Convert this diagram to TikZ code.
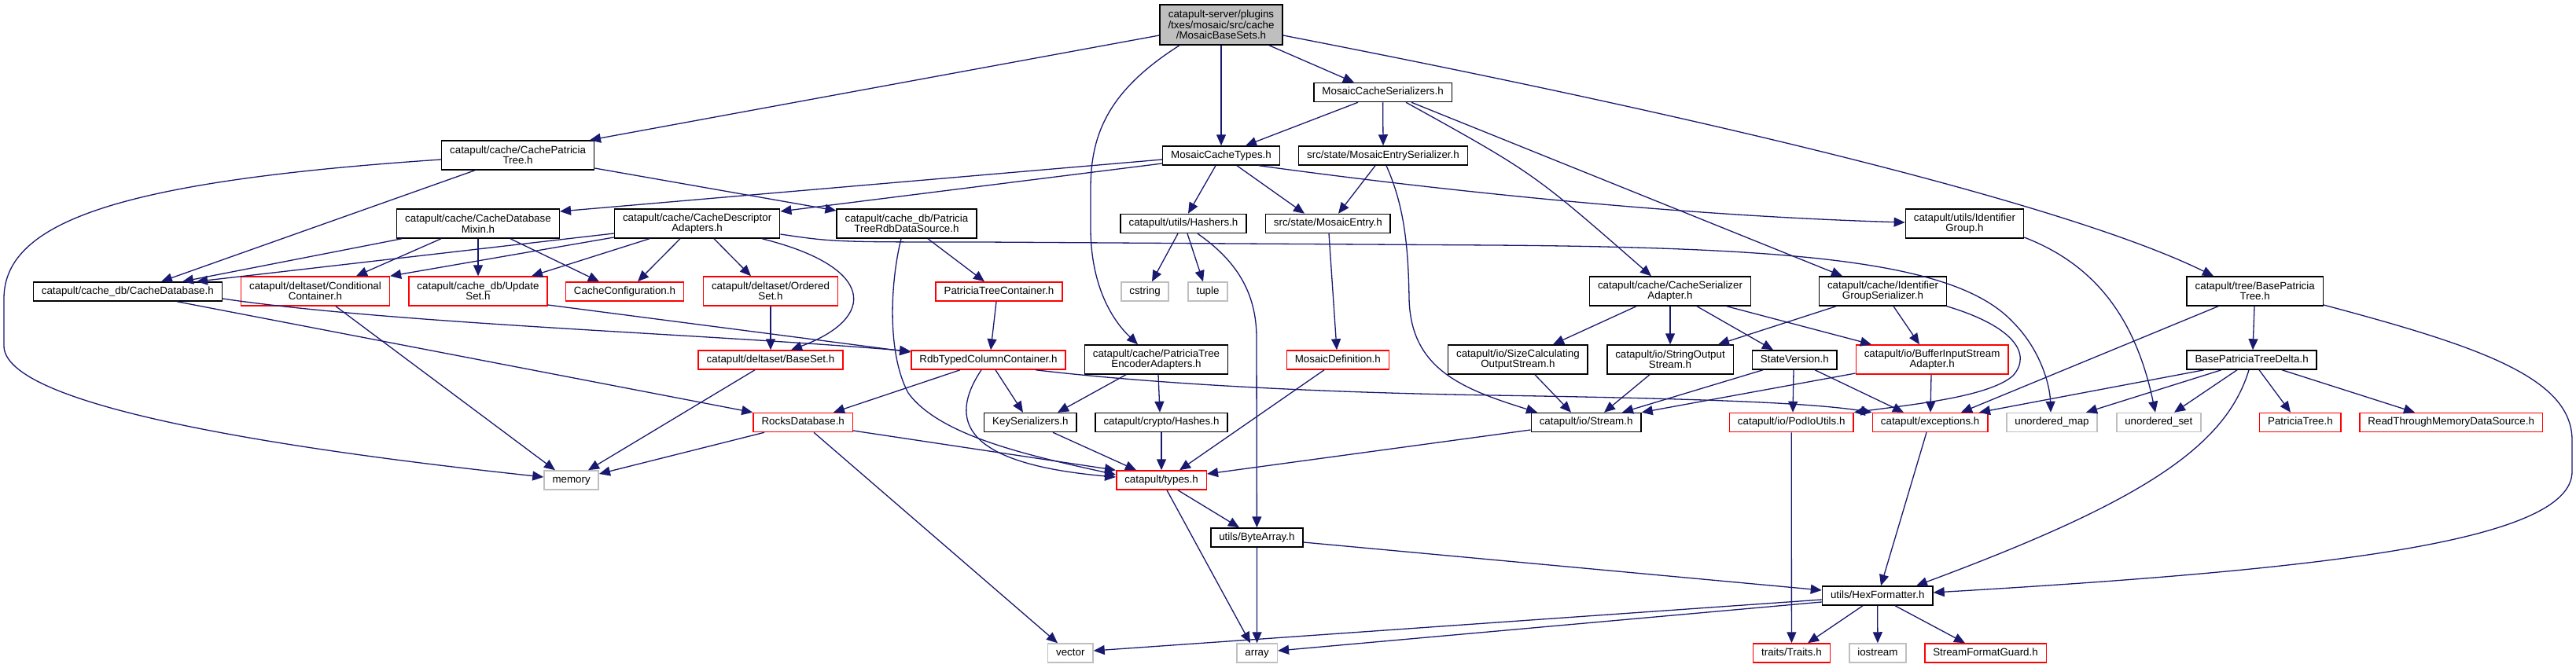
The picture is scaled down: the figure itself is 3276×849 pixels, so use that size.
\documentclass[tikz,border=0pt]{standalone}
\usepackage{fontspec}
\setmainfont{Liberation Sans}
\usetikzlibrary{arrows.meta}
\definecolor{edgeblue}{HTML}{191970}
\definecolor{greyline}{HTML}{BFBFBF}
\begin{document}
\begin{tikzpicture}[x=1pt,y=-1pt,
  box/.style={draw=black, line width=1.5pt, fill=white, font=\fontsize{13.35}{13.4}\selectfont, align=center, inner xsep=10.5pt, inner ysep=0pt},
  one/.style={box, minimum height=24pt, text height=9.8pt, text depth=2.9pt},
  two/.style={box, minimum height=37pt},
  three/.style={box, minimum height=51pt},
  trunc/.style={draw=red},
  sys/.style={draw=greyline},
  conn/.style={draw=edgeblue, line width=1.3pt, -{Triangle[length=14pt,width=12pt]}},
]
\useasboundingbox (0,0) rectangle (3276,849);

% ---- nodes ----
\node[three, fill=greyline] (root) at (1553,31.5) {catapult-server/plugins\\/txes/mosaic/src/cache\\/MosaicBaseSets.h};
\node[one] (MCS) at (1758.6,117.5) {MosaicCacheSerializers.h};
\node[one] (MCT) at (1553,198) {MosaicCacheTypes.h};
\node[one] (MES) at (1759,198) {src/state/MosaicEntrySerializer.h};
\node[two] (CPT) at (658.6,197.5) {catapult/cache/CachePatricia\\Tree.h};
\node[two] (BPT) at (2867.7,370.5) {catapult/tree/BasePatricia\\Tree.h};
\node[two] (CDM) at (608,284.5) {catapult/cache/CacheDatabase\\Mixin.h};
\node[two] (CDA) at (886.6,284.5) {catapult/cache/CacheDescriptor\\Adapters.h};
\node[two] (PTR) at (1153,284.5) {catapult/cache\_db/Patricia\\TreeRdbDataSource.h};
\node[one] (HSH) at (1505,284.5) {catapult/utils/Hashers.h};
\node[one] (ME) at (1688.8,284.5) {src/state/MosaicEntry.h};
\node[two] (IG) at (2498.4,284.5) {catapult/utils/Identifier\\Group.h};
\node[one] (CDB) at (162.3,371) {catapult/cache\_db/CacheDatabase.h};
\node[two, trunc] (CC) at (401,370.5) {catapult/deltaset/Conditional\\Container.h};
\node[two, trunc] (US) at (608,370.5) {catapult/cache\_db/Update\\Set.h};
\node[one, trunc] (CCF) at (794.5,371) {CacheConfiguration.h};
\node[two, trunc] (OS) at (980,370.5) {catapult/deltaset/Ordered\\Set.h};
\node[one, trunc] (PTC) at (1270.5,371) {PatriciaTreeContainer.h};
\node[one, sys] (CSTR) at (1456,371) {cstring};
\node[one, sys] (TUP) at (1536,371) {tuple};
\node[two] (CSA) at (2124,370.5) {catapult/cache/CacheSerializer\\Adapter.h};
\node[two] (IGS) at (2394.5,370.5) {catapult/cache/Identifier\\GroupSerializer.h};
\node[one, trunc] (MD) at (1701.3,458) {MosaicDefinition.h};
\node[one, trunc] (BS) at (980,458) {catapult/deltaset/BaseSet.h};
\node[one, trunc] (RTC) at (1257,458) {RdbTypedColumnContainer.h};
\node[two] (PTE) at (1470.5,457.5) {catapult/cache/PatriciaTree\\EncoderAdapters.h};
\node[two] (SCO) at (1930.4,457.5) {catapult/io/SizeCalculating\\OutputStream.h};
\node[two] (SOS) at (2124,457.5) {catapult/io/StringOutput\\Stream.h};
\node[one] (SV) at (2282.3,458) {StateVersion.h};
\node[two, trunc] (BIS) at (2457.1,457.5) {catapult/io/BufferInputStream\\Adapter.h};
\node[one] (BPTD) at (2863.6,458) {BasePatriciaTreeDelta.h};
\node[one, trunc] (RDB) at (1021.2,537.5) {RocksDatabase.h};
\node[one] (KS) at (1310.4,537.5) {KeySerializers.h};
\node[one] (HS) at (1477,537.5) {catapult/crypto/Hashes.h};
\node[one] (ST) at (2017.1,537.5) {catapult/io/Stream.h};
\node[one, trunc] (PIO) at (2278.2,537.5) {catapult/io/PodIoUtils.h};
\node[one, trunc] (EXC) at (2454.6,537.5) {catapult/exceptions.h};
\node[one, sys] (UMAP) at (2609.5,537.5) {unordered\_map};
\node[one, sys] (USET) at (2745.3,537.5) {unordered\_set};
\node[one, trunc] (PT) at (2925.4,537.5) {PatriciaTree.h};
\node[one, trunc] (RTM) at (3117.2,537.5) {ReadThroughMemoryDataSource.h};
\node[one, sys] (MEM) at (726.6,611) {memory};
\node[one, trunc] (TYP) at (1477,611) {catapult/types.h};
\node[one] (BA) at (1598.4,684) {utils/ByteArray.h};
\node[one] (HEX) at (2387.7,758) {utils/HexFormatter.h};
\node[one, sys] (VEC) at (1361.3,831) {vector};
\node[one, sys] (ARR) at (1598.6,831) {array};
\node[one, trunc] (TR) at (2278.4,831) {traits/Traits.h};
\node[one, sys] (IOS) at (2387.9,831) {iostream};
\node[one, trunc] (SFG) at (2525,831) {StreamFormatGuard.h};

% ---- edges ----
% root
\draw[conn] (root.west |- 0,45) -- (750,0 |- CPT.north);
\draw[conn] (root.south) -- (MCT.north);
\draw[conn] (1614,0 |- root.south) -- (1722,0 |- MCS.north);
\draw[conn] (1500,0 |- root.south) .. controls (1410,115) and (1387,170) .. (1387,240) -- (1387,290) .. controls (1387,360) and (1412,405) .. (1447,0 |- PTE.north);
\draw[conn] (root.east |- 0,45) .. controls (2250,165) and (2650,270) .. (2815,0 |- BPT.north);
% MCS
\draw[conn] (1727,0 |- MCS.south) -- (1584,0 |- MCT.north);
\draw[conn] (MCS.south) -- (MES.north);
\draw[conn] (1788,0 |- MCS.south) .. controls (1950,220) .. (2100,0 |- CSA.north);
\draw[conn] (1795,0 |- MCS.south) -- (2343,0 |- IGS.north);
% MCT
\draw[conn] (MCT.west |- 0,203) -- (CDM.east |- 0,269);
\draw[conn] (MCT.west |- 0,208) -- (CDA.east |- 0,269);
\draw[conn] (1546,0 |- MCT.south) -- (1511,0 |- HSH.north);
\draw[conn] (1573,0 |- MCT.south) -- (1659,0 |- ME.north);
\draw[conn] (1601,0 |- MCT.south) .. controls (1850,245) and (2150,275) .. (IG.west |- 0,283);
% MES
\draw[conn] (1749,0 |- MES.south) -- (1702,0 |- ME.north);
\draw[conn] (1763,0 |- MES.south) .. controls (1785,260) and (1791,310) .. (1792,380) .. controls (1794,470) and (1860,495) .. (1955,0 |- ST.north);
% CPT
\draw[conn] (CPT.west |- 0,203) .. controls (160,230) and (5,280) .. (5,380) -- (5,440) .. controls (5,510) and (300,565) .. (MEM.west |- 0,607);
\draw[conn] (604,0 |- CPT.south) -- (205,0 |- CDB.north);
\draw[conn] (CPT.east |- 0,214) -- (PTR.west |- 0,268);
% CDM
\draw[conn] (511,0 |- CDM.south) -- (232,0 |- CDB.north);
\draw[conn] (561,0 |- CDM.south) -- (453,0 |- CC.north);
\draw[conn] (CDM.south) -- (US.north);
\draw[conn] (649,0 |- CDM.south) -- (762,0 |- CCF.north);
% CDA
\draw[conn] (CDA.west |- 0,297) -- (250,0 |- CDB.north);
\draw[conn] (CDA.west |- 0,302) -- (CC.north east);
\draw[conn] (826,0 |- CDA.south) -- (676,0 |- US.north);
\draw[conn] (865,0 |- CDA.south) -- (811,0 |- CCF.north);
\draw[conn] (908,0 |- CDA.south) -- (955,0 |- OS.north);
\draw[conn] (969,0 |- CDA.south) .. controls (1115,340) and (1115,405) .. (1006,0 |- BS.north);
\draw[conn] (CDA.east |- 0,298) .. controls (1060,308) .. (1250,308) -- (1900,312) .. controls (2300,315) and (2490,335) .. (2560,410) .. controls (2595,445) and (2607,490) .. (2608,0 |- UMAP.north);
% PTR
\draw[conn] (1180,0 |- PTR.south) -- (1252,0 |- PTC.north);
\draw[conn] (1146,0 |- PTR.south) .. controls (1132,360) and (1128,450) .. (1155,500) .. controls (1195,555) and (1310,580) .. (TYP.west |- 0,604);
% PTC
\draw[conn] (1267,0 |- PTC.south) -- (1260,0 |- RTC.north);
% HSH
\draw[conn] (1498,0 |- HSH.south) -- (1465,0 |- CSTR.north);
\draw[conn] (1510,0 |- HSH.south) -- (1530,0 |- TUP.north);
\draw[conn] (1523,0 |- HSH.south) .. controls (1570,330) and (1598,370) .. (1598,430) -- (BA.north);
% ME, MD
\draw[conn] (1690,0 |- ME.south) -- (1700,0 |- MD.north);
\draw[conn] (1684,0 |- MD.south) -- (1500,0 |- TYP.north);
% IG
\draw[conn] (IG.east |- 0,302) .. controls (2660,335) and (2715,400) .. (2741,0 |- USET.north);
% CDB, US, CC, OS, BS
\draw[conn] (225,0 |- CDB.south) -- (RDB.north west);
\draw[conn] (CDB.east |- 0,380) .. controls (500,412) and (900,425) .. (RTC.west |- 0,447);
\draw[conn] (US.east |- 0,388) -- (RTC.west |- 0,448);
\draw[conn] (427,0 |- CC.south) -- (706,0 |- MEM.north);
\draw[conn] (OS.south) -- (BS.north);
\draw[conn] (960,0 |- BS.south) -- (748,0 |- MEM.north);
% RTC
\draw[conn] (1221,0 |- RTC.south) -- (1060,0 |- RDB.north);
\draw[conn] (1248,0 |- RTC.south) .. controls (1205,535) and (1225,590) .. (TYP.west |- 0,607);
\draw[conn] (1266,0 |- RTC.south) -- (1301,0 |- KS.north);
\draw[conn] (1317,0 |- RTC.south) .. controls (1480,490) and (1700,500) .. (1900,503) .. controls (2150,507) and (2300,512) .. (EXC.north west);
% PTE
\draw[conn] (1432,0 |- PTE.south) -- (1345,0 |- KS.north);
\draw[conn] (1473,0 |- PTE.south) -- (1475,0 |- HS.north);
% RDB
\draw[conn] (972,0 |- RDB.south) -- (MEM.east |- 0,603);
\draw[conn] (RDB.east |- 0,548) -- (TYP.north west);
\draw[conn] (1035,0 |- RDB.south) -- (1345,0 |- VEC.north);
% KS, HS
\draw[conn] (1339,0 |- KS.south) -- (1445,0 |- TYP.north);
\draw[conn] (HS.south) -- (TYP.north);
% TYP, BA
\draw[conn] (1484,0 |- TYP.south) -- (1590,0 |- ARR.north);
\draw[conn] (1498,0 |- TYP.south) -- (1576,0 |- BA.north);
\draw[conn] (BA.south) -- (ARR.north);
\draw[conn] (BA.east |- 0,690) -- (HEX.west |- 0,751);
% ST
\draw[conn] (ST.west |- 0,547) -- (TYP.east |- 0,603);
% CSA
\draw[conn] (2081,0 |- CSA.south) -- (1975,0 |- SCO.north);
\draw[conn] (CSA.south) -- (SOS.north);
\draw[conn] (2158,0 |- CSA.south) -- (2255,0 |- SV.north);
\draw[conn] (2196,0 |- CSA.south) -- (2380,0 |- BIS.north);
% IGS
\draw[conn] (2335,0 |- IGS.south) -- (2185,0 |- SOS.north);
\draw[conn] (2408,0 |- IGS.south) -- (2441,0 |- BIS.north);
\draw[conn] (2476,0 |- IGS.south) .. controls (2560,415) and (2585,450) .. (2560,478) .. controls (2530,505) and (2430,515) .. (PIO.north east);
% into Stream.h
\draw[conn] (1952,0 |- SCO.south) -- (1998,0 |- ST.north);
\draw[conn] (2098,0 |- SOS.south) -- (2040,0 |- ST.north);
\draw[conn] (2242,0 |- SV.south) -- (2063,0 |- ST.north);
\draw[conn] (BIS.west |- 0,475) -- (ST.north east);
% SV, BIS
\draw[conn] (2281,0 |- SV.south) -- (2280,0 |- PIO.north);
\draw[conn] (2308,0 |- SV.south) -- (2421,0 |- EXC.north);
\draw[conn] (2456,0 |- BIS.south) -- (2455,0 |- EXC.north);
% PIO, EXC, HEX
\draw[conn] (PIO.south) -- (TR.north);
\draw[conn] (2450,0 |- EXC.south) -- (2392,0 |- HEX.north);
\draw[conn] (2369,0 |- HEX.south) -- (2299,0 |- TR.north);
\draw[conn] (HEX.south) -- (IOS.north);
\draw[conn] (2410,0 |- HEX.south) -- (2499,0 |- SFG.north);
\draw[conn] (HEX.west |- 0,763) -- (VEC.east |- 0,828);
\draw[conn] (HEX.west |- 0,766) -- (ARR.east |- 0,828);
% BPT
\draw[conn] (2867,0 |- BPT.south) -- (2865,0 |- BPTD.north);
\draw[conn] (2821,0 |- BPT.south) -- (2494,0 |- EXC.north);
\draw[conn] (BPT.east |- 0,388) .. controls (3150,440) and (3271,480) .. (3271,560) -- (3271,600) .. controls (3271,690) and (2950,725) .. (HEX.east |- 0,754);
% BPTD
\draw[conn] (2803,0 |- BPTD.south) -- (2517,0 |- EXC.north);
\draw[conn] (2825,0 |- BPTD.south) -- (2653,0 |- UMAP.north);
\draw[conn] (2845,0 |- BPTD.south) -- (2765,0 |- USET.north);
\draw[conn] (2860,0 |- BPTD.south) .. controls (2830,570) and (2720,640) .. (2437,0 |- HEX.north);
\draw[conn] (2873,0 |- BPTD.south) -- (2913,0 |- PT.north);
\draw[conn] (2902,0 |- BPTD.south) -- (3071,0 |- RTM.north);
\end{tikzpicture}
\end{document}
